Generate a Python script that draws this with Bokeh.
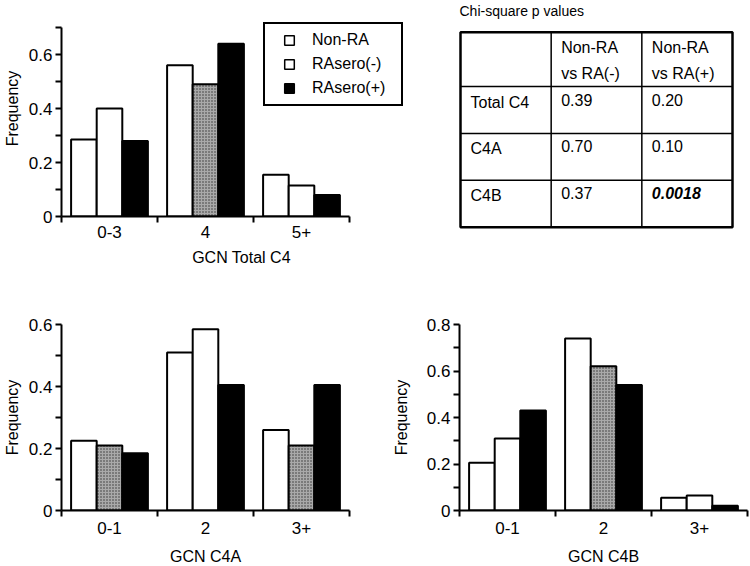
import numpy as np
from bokeh.plotting import figure
from bokeh.layouts import row, column
from bokeh.models import ColumnDataSource, Range1d, FixedTicker, Legend, LegendItem
from bokeh.core.properties import value
from bokeh.embed import file_html
from bokeh.resources import INLINE

FONT = "Liberation Sans"

# ---------------- data ----------------
series_names = ["Non-RA", "RAsero(-)", "RAsero(+)"]

total_categories = ["0-3", "4", "5+"]
total_non_ra = [0.285, 0.56, 0.155]
total_ra_neg = [0.40, 0.49, 0.115]
total_ra_pos = [0.28, 0.64, 0.08]

c4a_categories = ["0-1", "2", "3+"]
c4a_non_ra = [0.225, 0.51, 0.26]
c4a_ra_neg = [0.21, 0.585, 0.21]
c4a_ra_pos = [0.185, 0.405, 0.405]

c4b_categories = ["0-1", "2", "3+"]
c4b_non_ra = [0.205, 0.74, 0.055]
c4b_ra_neg = [0.31, 0.62, 0.065]
c4b_ra_pos = [0.43, 0.54, 0.02]

total_y_ticks = [0, 0.2, 0.4, 0.6]
c4a_y_ticks = [0, 0.2, 0.4, 0.6]
c4b_y_ticks = [0, 0.2, 0.4, 0.6, 0.8]

table_title = "Chi-square p values"
table_header = ["Non-RA\nvs RA(-)", "Non-RA\nvs RA(+)"]
table_rows = ["Total C4", "C4A", "C4B"]
p_non_ra_vs_neg = ["0.39", "0.70", "0.37"]
p_non_ra_vs_pos = ["0.20", "0.10", "0.0018"]

# ---------------- styles ----------------
# which RAsero(-) bars are drawn shaded in the original figure
total_neg_shaded = [False, True, False]
c4a_neg_shaded = [True, False, True]
c4b_neg_shaded = [False, True, False]
GREY = "#a9a9a9"


def make_chart(categories, series_values, neg_shaded, y_ticks, y_max, x_label,
               axis_w, axis_h, frame_w, frame_h, b_left, b_right, b_top, b_bottom,
               ylab_standoff, xlab_standoff, xtick_standoff, with_legend=False):
    n = len(categories)
    # the frame may be larger than the drawn axes (room for the legend)
    x_end = n * frame_w / axis_w
    y_end = y_max * frame_h / axis_h
    p = figure(frame_width=frame_w, frame_height=frame_h,
               x_range=Range1d(0, x_end), y_range=Range1d(0, y_end),
               min_border_left=b_left, min_border_right=b_right,
               min_border_top=b_top, min_border_bottom=b_bottom,
               title=None, output_backend="svg", toolbar_location=None)
    p.outline_line_color = None
    p.xgrid.visible = False
    p.ygrid.visible = False
    p.background_fill_color = "white"
    p.border_fill_color = "white"

    k = len(series_values)
    bw = 0.8 / k
    for j, vals in enumerate(series_values):
        xs = [i + 0.5 + (j - (k - 1) / 2) * bw for i in range(n)]
        if j == 0:
            fills = ["white"] * n
            hatches = [" "] * n
        elif j == 1:
            fills = [GREY if s else "white" for s in neg_shaded]
            hatches = ["dot" if s else " " for s in neg_shaded]
        else:
            fills = ["black"] * n
            hatches = [" "] * n
        src = ColumnDataSource(dict(x=xs, top=vals, fill=fills, hatch=hatches))
        p.vbar(x="x", top="top", bottom=0, width=bw, source=src,
               fill_color="fill", hatch_pattern="hatch", hatch_color="#333333",
               hatch_scale=3, hatch_weight=1,
               line_color="black", line_width=2)

    # x axis: labels at category centres, ticks at category boundaries
    xa = p.xaxis[0]
    xa.bounds = (0, n)
    xa.ticker = FixedTicker(ticks=[i + 0.5 for i in range(n)],
                            minor_ticks=list(range(n + 1)))
    xa.major_label_overrides = {i + 0.5: c for i, c in enumerate(categories)}
    xa.major_tick_out = 0
    xa.major_tick_in = 0
    xa.minor_tick_out = 6
    xa.minor_tick_in = 0
    xa.minor_tick_line_width = 2
    xa.minor_tick_line_color = "black"
    xa.axis_line_width = 2
    xa.axis_line_color = "black"
    xa.major_label_standoff = xtick_standoff
    xa.major_label_text_font = FONT
    xa.major_label_text_font_size = "17px"
    xa.major_label_text_color = "black"
    xa.axis_label = x_label
    xa.axis_label_text_font = FONT
    xa.axis_label_text_font_size = "16px"
    xa.axis_label_text_font_style = "normal"
    xa.axis_label_text_color = "black"
    xa.axis_label_standoff = xlab_standoff

    ya = p.yaxis[0]
    ya.bounds = (0, y_max)
    minors = [round(t + 0.1, 2) for t in y_ticks if t + 0.1 <= y_max + 1e-9]
    ya.ticker = FixedTicker(ticks=y_ticks, minor_ticks=minors)
    ya.major_label_overrides = {0: "0"}
    ya.major_tick_out = 6
    ya.major_tick_in = 0
    ya.minor_tick_out = 6
    ya.minor_tick_in = 0
    ya.major_tick_line_width = 2
    ya.minor_tick_line_width = 2
    ya.minor_tick_line_color = "black"
    ya.axis_line_width = 2
    ya.axis_line_color = "black"
    ya.major_label_standoff = 3
    ya.major_label_text_font = FONT
    ya.major_label_text_font_size = "17px"
    ya.major_label_text_color = "black"
    ya.axis_label = "Frequency"
    ya.axis_label_text_font = FONT
    ya.axis_label_text_font_size = "16px"
    ya.axis_label_text_font_style = "normal"
    ya.axis_label_text_color = "black"
    ya.axis_label_standoff = ylab_standoff

    if with_legend:
        legend_fills = ["white", "white", "black"]
        items = []
        for name, fc in zip(series_names, legend_fills):
            # proxy glyph with no visible point, only used for the legend swatch
            r = p.scatter(x=np.array([np.nan]), y=np.array([np.nan]), marker="square",
                          fill_color=fc, line_color="black", line_width=1.5)
            items.append(LegendItem(label=value(name), renderers=[r]))
        legend = Legend(items=items, location=(202, 110),
                        glyph_width=40, glyph_height=24, label_height=24,
                        label_width=85, spacing=0, padding=4, margin=0,
                        label_standoff=3,
                        border_line_color="black", border_line_width=2,
                        border_line_alpha=1,
                        background_fill_color="white", background_fill_alpha=1,
                        label_text_font=FONT, label_text_font_size="16px",
                        label_text_color="black")
        p.add_layout(legend)
    return p


top = make_chart(total_categories, [total_non_ra, total_ra_neg, total_ra_pos],
                 total_neg_shaded, total_y_ticks, 0.7, "GCN Total C4",
                 288, 189, 360, 216, 60, 30, 0, 54, 5, 8, 3, with_legend=True)

c4a = make_chart(c4a_categories, [c4a_non_ra, c4a_ra_neg, c4a_ra_pos],
                 c4a_neg_shaded, c4a_y_ticks, 0.6, "GCN C4A",
                 288, 186, 288, 186, 60, 39, 54, 56, 5, 11, 5)

c4b = make_chart(c4b_categories, [c4b_non_ra, c4b_ra_neg, c4b_ra_pos],
                 c4b_neg_shaded, c4b_y_ticks, 0.8, "GCN C4B",
                 288, 186, 288, 186, 71, 2, 54, 56, 14, 11, 5)

# ---------------- table ----------------
col_edges = [0, 1, 2, 3]
row_edges = [0, 1.16, 2.16, 3.16, 4.16]
t = figure(frame_width=296, frame_height=270,
           x_range=Range1d(-0.0993, 3.1654), y_range=Range1d(5.084, -0.676),
           x_axis_type=None, y_axis_type=None, title=None,
           min_border_left=0, min_border_right=0, min_border_top=0, min_border_bottom=0,
           output_backend="svg", toolbar_location=None)
t.outline_line_color = None
t.background_fill_color = "white"
t.border_fill_color = "white"

inner_x0 = col_edges[1:-1] + [col_edges[0]] * (len(row_edges) - 2)
inner_x1 = col_edges[1:-1] + [col_edges[-1]] * (len(row_edges) - 2)
inner_y0 = [row_edges[0]] * (len(col_edges) - 2) + row_edges[1:-1]
inner_y1 = [row_edges[-1]] * (len(col_edges) - 2) + row_edges[1:-1]
t.segment(x0=inner_x0, y0=inner_y0, x1=inner_x1, y1=inner_y1,
          line_color="black", line_width=1.5)
t.quad(left=col_edges[0], right=col_edges[-1], top=row_edges[0], bottom=row_edges[-1],
       fill_color=None, line_color="black", line_width=2.5)

txt = dict(text_font=value(FONT), text_font_size="16px", text_color="black",
           text_baseline="top", text_align="left", x_offset=10, y_offset=7)
t.text(x=col_edges[1:3], y=[row_edges[0]] * 2, text=table_header,
       text_line_height=1.5, **txt)
t.text(x=[col_edges[0]] * 3, y=row_edges[1:4], text=table_rows, **txt)
t.text(x=[col_edges[1]] * 3, y=row_edges[1:4], text=p_non_ra_vs_neg, **txt)
pos_styles = ["bold italic" if float(v) < 0.01 else "normal" for v in p_non_ra_vs_pos]
t.text(x=[col_edges[2]] * 3, y=row_edges[1:4],
       text=p_non_ra_vs_pos, text_font_style=pos_styles, **txt)
t.text(x=[col_edges[0]], y=[-0.676], text=[table_title], text_font=value(FONT),
       text_font_size="14px", text_color="black", text_baseline="top",
       x_offset=-1, y_offset=2)

layout = column(row(top, t), row(c4a, c4b))

open("out.html", "w").write(file_html(layout, INLINE))
